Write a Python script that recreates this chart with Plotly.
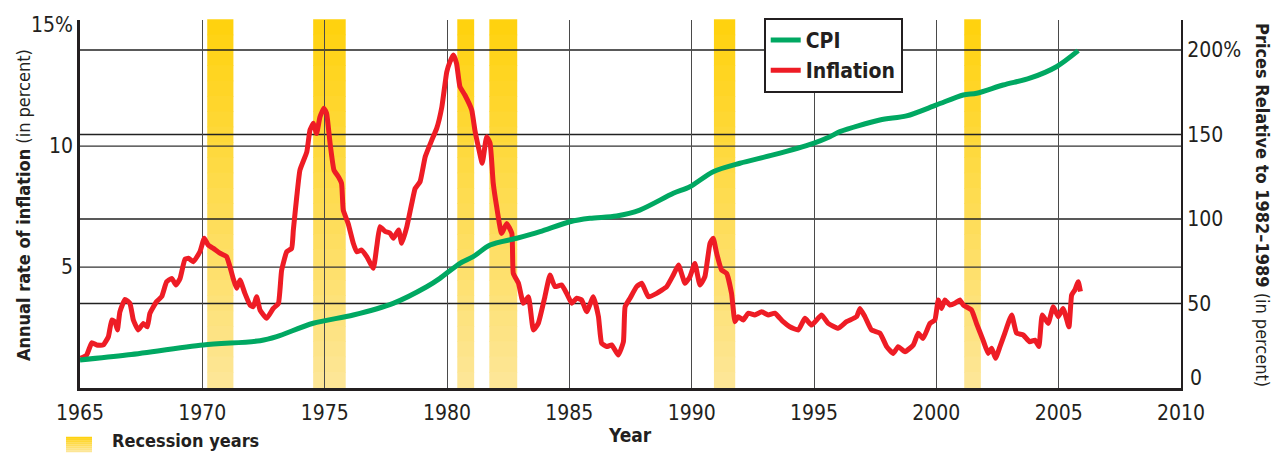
import plotly.graph_objects as go

# ---------------- data ----------------
cpi_years = [1965.0, 1966.9, 1970.04, 1972.36, 1973.04, 1974.53, 1976.17, 1977.8, 1979.17,
             1979.71, 1980.53, 1981.07, 1981.76, 1982.85, 1983.8, 1985.03, 1985.84, 1986.93,
             1987.88, 1989.25, 1989.93, 1990.88, 1991.97, 1993.33, 1994.97, 1995.65, 1996.06,
             1997.69, 1998.78, 2000.01, 2001.1, 2001.65, 2002.73, 2003.82, 2004.91, 2005.8]
cpi_values = [16.6, 19.5, 25.4, 28.0, 30.4, 38.3, 43.2, 50.1, 59.9,
              64.9, 73.8, 77.7, 84.6, 88.6, 92.5, 98.4, 100.4, 101.8,
              105.3, 115.2, 119.1, 128.0, 133.0, 137.9, 144.8, 148.7, 151.7,
              158.6, 161.0, 167.5, 173.4, 174.4, 179.3, 183.3, 190.1, 199.6]

infl_years = [1965.03, 1965.27, 1965.48, 1965.68, 1965.95, 1966.16, 1966.30, 1966.43, 1966.53,
              1966.63, 1966.84, 1967.04, 1967.18, 1967.38, 1967.59, 1967.75, 1967.86, 1968.13,
              1968.34, 1968.54, 1968.75, 1968.92, 1969.09, 1969.29, 1969.43, 1969.63, 1969.90,
              1970.08, 1970.24, 1970.45, 1970.72, 1970.99, 1971.13, 1971.26, 1971.40, 1971.54,
              1971.74, 1971.95, 1972.08, 1972.22, 1972.36, 1972.63, 1972.90, 1973.11, 1973.24,
              1973.45, 1973.65, 1973.72, 1973.86, 1973.99, 1974.27, 1974.40, 1974.54, 1974.67,
              1974.81, 1974.97, 1975.08, 1975.22, 1975.38, 1975.56, 1975.69, 1975.76, 1975.96,
              1976.17, 1976.31, 1976.51, 1976.72, 1976.99, 1977.13, 1977.26, 1977.47, 1977.67,
              1977.81, 1978.02, 1978.15, 1978.36, 1978.56, 1978.70, 1978.90, 1979.11, 1979.38,
              1979.58, 1979.79, 1979.99, 1980.12, 1980.26, 1980.39, 1980.53, 1980.73, 1981.01,
              1981.14, 1981.28, 1981.44, 1981.62, 1981.76, 1981.89, 1982.03, 1982.23, 1982.44,
              1982.65, 1982.71, 1982.92, 1983.12, 1983.33, 1983.53, 1983.73, 1984.00, 1984.21,
              1984.41, 1984.69, 1984.89, 1985.10, 1985.30, 1985.50, 1985.71, 1985.98, 1986.19,
              1986.32, 1986.53, 1986.73, 1987.00, 1987.21, 1987.28, 1987.48, 1987.75, 1987.96,
              1988.23, 1988.57, 1988.98, 1989.25, 1989.46, 1989.73, 1989.93, 1990.13, 1990.34,
              1990.54, 1990.75, 1990.88, 1991.02, 1991.22, 1991.43, 1991.63, 1991.77, 1991.90,
              1992.11, 1992.31, 1992.58, 1992.86, 1993.13, 1993.40, 1993.74, 1994.01, 1994.36,
              1994.63, 1994.90, 1995.31, 1995.58, 1995.99, 1996.33, 1996.74, 1996.88, 1997.08,
              1997.35, 1997.70, 1997.97, 1998.24, 1998.44, 1998.72, 1999.06, 1999.26, 1999.46,
              1999.74, 1999.94, 2000.08, 2000.21, 2000.35, 2000.55, 2000.76, 2000.96, 2001.10,
              2001.44, 2001.64, 2001.91, 2002.12, 2002.26, 2002.42, 2002.60, 2002.80, 2003.08,
              2003.28, 2003.55, 2003.82, 2004.03, 2004.19, 2004.33, 2004.57, 2004.78, 2004.98,
              2005.18, 2005.42, 2005.53, 2005.66, 2005.80, 2005.89]
infl_values = [1.23, 1.36, 1.87, 1.78, 1.78, 2.12, 2.81, 2.74, 2.40,
               3.15, 3.66, 3.50, 2.81, 2.40, 2.67, 2.53, 3.09, 3.57,
               3.78, 4.39, 4.53, 4.26, 4.53, 5.32, 5.36, 5.22, 5.63,
               6.19, 5.91, 5.77, 5.57, 5.43, 5.01, 4.53, 4.12, 4.46,
               3.91, 3.43, 3.36, 3.77, 3.22, 2.88, 3.29, 3.50, 4.86,
               5.63, 5.77, 6.53, 7.91, 9.01, 9.76, 10.66, 10.94, 10.52,
               11.21, 11.56, 11.35, 10.12, 9.01, 8.73, 8.46, 7.36, 6.80,
               5.98, 5.63, 5.70, 5.43, 4.95, 5.85, 6.67, 6.47, 6.40,
               6.19, 6.53, 5.98, 6.67, 7.63, 8.25, 8.53, 9.56, 10.25,
               10.73, 11.62, 13.06, 13.48, 13.76, 13.42, 12.45, 12.11, 11.49,
               10.66, 9.97, 9.29, 10.38, 10.12, 8.46, 7.49, 6.39, 6.80,
               6.39, 4.74, 4.33, 3.50, 3.77, 2.40, 2.67, 3.77, 4.67,
               4.19, 4.26, 3.91, 3.50, 3.71, 3.64, 3.15, 3.77, 2.95,
               1.85, 1.71, 1.78, 1.36, 1.91, 3.36, 3.71, 4.19, 4.33,
               3.77, 3.91, 4.19, 4.67, 5.08, 4.33, 4.60, 5.15, 4.26,
               4.60, 5.98, 6.19, 5.57, 4.88, 4.74, 3.91, 2.74, 2.95,
               2.81, 3.09, 3.02, 3.15, 3.02, 3.09, 2.74, 2.53, 2.40,
               2.88, 2.60, 3.02, 2.67, 2.47, 2.74, 2.95, 3.29, 2.95,
               2.40, 2.26, 1.71, 1.43, 1.71, 1.50, 1.78, 2.26, 2.05,
               2.67, 2.81, 3.64, 3.29, 3.64, 3.43, 3.50, 3.64, 3.43,
               3.22, 2.67, 1.98, 1.43, 1.64, 1.23, 1.71, 2.27, 3.02,
               2.27, 2.19, 1.91, 1.98, 1.71, 3.02, 2.67, 3.36, 2.95,
               3.29, 2.53, 3.84, 4.05, 4.39, 3.99]

recession_start = [1970.20, 1974.53, 1980.42, 1981.73, 1990.91, 2001.14]
recession_end = [1971.27, 1975.86, 1981.11, 1982.87, 1991.78, 2001.82]

x_ticks = [1965, 1970, 1975, 1980, 1985, 1990, 1995, 2000, 2005, 2010]
left_ticks = [5, 10, 15]
left_tick_text = ["5", "10", "15%"]
right_ticks = [50, 100, 150, 200]
right_tick_text = ["50", "100", "150", "200%"]
right_zero_label = "0"
left_grid = [5, 10]
right_grid = [50, 100, 150, 200]

# ---------------- style ----------------
FONT = "DejaVu Sans Condensed, Liberation Sans Narrow, Arial Narrow, sans-serif"
TXT = "#231f20"
GREEN = "#00a862"
RED = "#ee1c25"
BAND_TOP = (255, 210, 15)
BAND_BOT = (253, 230, 150)
X0, X1 = 1965, 2010
Y_LEFT_MAX = 15.21
Y_RIGHT_MAX = 217.75

def band_color(t):
    c = [round(BAND_TOP[i] + (BAND_BOT[i] - BAND_TOP[i]) * t) for i in range(3)]
    return "rgb(%d,%d,%d)" % tuple(c)

fig = go.Figure()

fig.add_trace(go.Scatter(x=cpi_years, y=cpi_values, yaxis="y2", mode="lines", name="<b>CPI</b>",
                         line=dict(color=GREEN, width=5, shape="spline", smoothing=0.8),
                         legendrank=1))
fig.add_trace(go.Scatter(x=infl_years, y=infl_values, yaxis="y", mode="lines", name="<b>Inflation</b>",
                         line=dict(color=RED, width=5, shape="spline", smoothing=0.4),
                         legendrank=2))

shapes = []
N = 24
for s, e in zip(recession_start, recession_end):
    for k in range(N):
        shapes.append(dict(type="rect", xref="x", yref="paper", x0=s, x1=e,
                           y0=1 - (k + 1) / N, y1=1 - k / N + 0.002,
                           fillcolor=band_color(k / (N - 1)), line=dict(width=0), layer="below"))
for v in left_grid:
    shapes.append(dict(type="line", xref="paper", yref="y", x0=0, x1=1, y0=v, y1=v,
                       line=dict(color="#333333", width=1.2), layer="below"))
for v in right_grid:
    shapes.append(dict(type="line", xref="paper", yref="y2", x0=0, x1=1, y0=v, y1=v,
                       line=dict(color="#222222", width=1.5), layer="below"))
# recession legend swatch
for k in range(8):
    shapes.append(dict(type="rect", xref="paper", yref="paper", x0=-0.0127, x1=0.0109,
                       y0=-0.133 - (k + 1) * 0.0052, y1=-0.133 - k * 0.0052 + 0.0005,
                       fillcolor=band_color(k / 7), line=dict(width=0)))

annotations = [
    dict(text="<b>Annual rate of inflation</b> (in percent)", xref="paper", yref="paper",
         x=-0.0518, y=0.497, xanchor="center", yanchor="middle", textangle=-90, showarrow=False,
         font=dict(size=18, color=TXT, family=FONT)),
    dict(text="<b>Prices Relative to 1982–1989</b> (in percent)", xref="paper", yref="paper",
         x=1.0745, y=0.497, xanchor="center", yanchor="middle", textangle=90, showarrow=False,
         font=dict(size=18, color=TXT, family=FONT)),
    dict(text="<b>Year</b>", xref="paper", yref="paper", x=0.4995, y=-0.128,
         xanchor="center", yanchor="middle", showarrow=False,
         font=dict(size=19, color=TXT, family=FONT)),
    dict(text="<b>Recession years</b>", xref="paper", yref="paper", x=0.0272, y=-0.142,
         xanchor="left", yanchor="middle", showarrow=False,
         font=dict(size=18, color=TXT, family=FONT)),
    dict(text=right_zero_label, xref="paper", yref="paper", x=1.0064, y=0.027,
         xanchor="left", yanchor="middle", showarrow=False,
         font=dict(size=21, color=TXT, family=FONT)),
]

# the page body adds an 8 px offset, so the figure is sized to land the plot area
# at the same pixels as the reference (plot area 80..1181 x 20..388)
fig.update_layout(
    width=1276, height=445,
    margin=dict(l=72, r=103, t=12, b=65, autoexpand=False),
    paper_bgcolor="white", plot_bgcolor="white",
    font=dict(family=FONT, color=TXT),
    showlegend=True,
    legend=dict(x=0.621, y=1.006, xanchor="left", yanchor="top", bgcolor="white",
                bordercolor="#231f20", borderwidth=2, font=dict(size=21, color=TXT, family=FONT),
                itemwidth=30, tracegroupgap=0),
    xaxis=dict(range=[X0, X1], tickvals=x_ticks, showgrid=True, gridcolor="#4a4a4a", gridwidth=1,
               zeroline=False, showline=True, linecolor="#231f20", linewidth=2.5, ticks="",
               automargin=False, ticklabelstandoff=4, tickfont=dict(size=21, color=TXT, family=FONT)),
    yaxis=dict(range=[0, Y_LEFT_MAX], tickvals=left_ticks, ticktext=left_tick_text, showgrid=False,
               zeroline=False, showline=True, linecolor="#231f20", linewidth=2.5, ticks="",
               automargin=False, tickfont=dict(size=21, color=TXT, family=FONT)),
    yaxis2=dict(range=[0, Y_RIGHT_MAX], overlaying="y", side="right", tickvals=right_ticks,
                ticktext=right_tick_text, showgrid=False, zeroline=False, showline=True,
                linecolor="#231f20", linewidth=2, ticks="", automargin=False,
                tickfont=dict(size=21, color=TXT, family=FONT)),
    shapes=shapes,
    annotations=annotations,
)

fig.write_html("out.html")
